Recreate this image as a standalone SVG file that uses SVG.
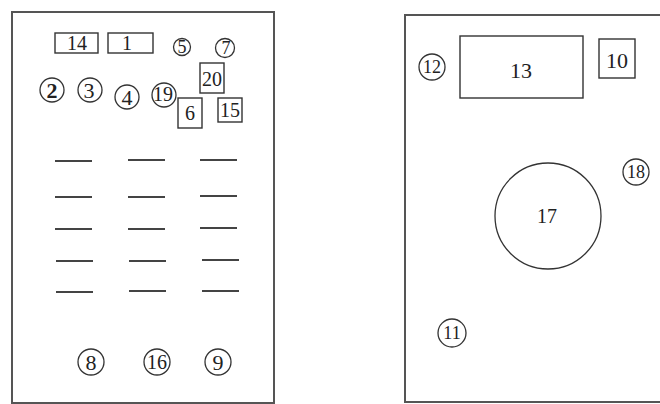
<svg xmlns="http://www.w3.org/2000/svg" width="660" height="404" viewBox="0 0 660 404">
<style>
.frame{fill:none;stroke:#555;stroke-width:2}
.box{fill:none;stroke:#333;stroke-width:1.4}
.c{fill:none;stroke:#333;stroke-width:1.3}
.dash{stroke:#444;stroke-width:2}
text{font-family:"Liberation Serif","DejaVu Serif",serif;fill:#222;text-anchor:middle}
.t22{font-size:22px}
.t20{font-size:20px}
.t18{font-size:18px}
</style>
<rect width="660" height="404" fill="#fff"/>
<g id="panel-left">
<rect class="frame" x="12" y="12" width="262" height="391"/>
</g>
<g id="panel-right">
<rect class="frame" x="405" y="15" width="260" height="387"/>
</g>
<g id="n14"><rect class="box" x="55" y="33" width="43" height="20"/><text class="t20" x="77" y="50">14</text></g>
<g id="n1"><rect class="box" x="108" y="33" width="45" height="20"/><text class="t20" x="127" y="50">1</text></g>
<g id="n5"><circle class="c" cx="182" cy="47" r="8.5"/><text class="t18" x="182" y="53">5</text></g>
<g id="n7"><circle class="c" cx="225" cy="48" r="9.5"/><text class="t18" x="226" y="54">7</text></g>
<g id="n20"><rect class="box" x="200" y="63" width="24" height="30"/><text class="t20" x="212" y="86">20</text></g>
<g id="n2"><circle class="c" cx="52" cy="90" r="12"/><text class="t22" x="52" y="98" font-weight="bold">2</text></g>
<g id="n3"><circle class="c" cx="90" cy="90" r="12"/><text class="t22" x="89" y="98">3</text></g>
<g id="n4"><circle class="c" cx="127" cy="97" r="12"/><text class="t22" x="127" y="105">4</text></g>
<g id="n19"><circle class="c" cx="164" cy="95" r="12"/><text class="t20" x="163" y="101">19</text></g>
<g id="n6"><rect class="box" x="178" y="98" width="24" height="30"/><text class="t20" x="190" y="120">6</text></g>
<g id="n15"><rect class="box" x="218" y="98" width="24" height="24"/><text class="t20" x="230" y="117">15</text></g>
<g id="dashes">
<line class="dash" x1="55" y1="161" x2="92" y2="161"/><line class="dash" x1="128" y1="160" x2="165" y2="160"/><line class="dash" x1="200" y1="160" x2="237" y2="160"/>
<line class="dash" x1="55" y1="197" x2="92" y2="197"/><line class="dash" x1="128" y1="197" x2="165" y2="197"/><line class="dash" x1="200" y1="196" x2="237" y2="196"/>
<line class="dash" x1="55" y1="229" x2="92" y2="229"/><line class="dash" x1="128" y1="229" x2="165" y2="229"/><line class="dash" x1="200" y1="228" x2="237" y2="228"/>
<line class="dash" x1="56" y1="261" x2="93" y2="261"/><line class="dash" x1="129" y1="261" x2="166" y2="261"/><line class="dash" x1="202" y1="260" x2="239" y2="260"/>
<line class="dash" x1="56" y1="292" x2="93" y2="292"/><line class="dash" x1="129" y1="291" x2="166" y2="291"/><line class="dash" x1="202" y1="291" x2="239" y2="291"/>
</g>
<g id="n8"><circle class="c" cx="91" cy="362" r="13"/><text class="t22" x="91" y="370">8</text></g>
<g id="n16"><circle class="c" cx="157" cy="362" r="13"/><text class="t20" x="157" y="369">16</text></g>
<g id="n9"><circle class="c" cx="218" cy="362" r="13"/><text class="t22" x="218" y="370">9</text></g>
<g id="n12"><circle class="c" cx="432" cy="67" r="13"/><text class="t18" x="432" y="73">12</text></g>
<g id="n13"><rect class="box" x="460" y="36" width="123" height="62"/><text class="t22" x="521" y="78">13</text></g>
<g id="n10"><rect class="box" x="599" y="39" width="36" height="39"/><text class="t22" x="617" y="68">10</text></g>
<g id="n18"><circle class="c" cx="636" cy="172" r="13"/><text class="t18" x="636" y="178">18</text></g>
<g id="n17"><circle class="c" cx="548" cy="216" r="53"/><text class="t20" x="547" y="223">17</text></g>
<g id="n11"><circle class="c" cx="452" cy="333" r="14"/><text class="t18" x="452" y="339">11</text></g>
</svg>
